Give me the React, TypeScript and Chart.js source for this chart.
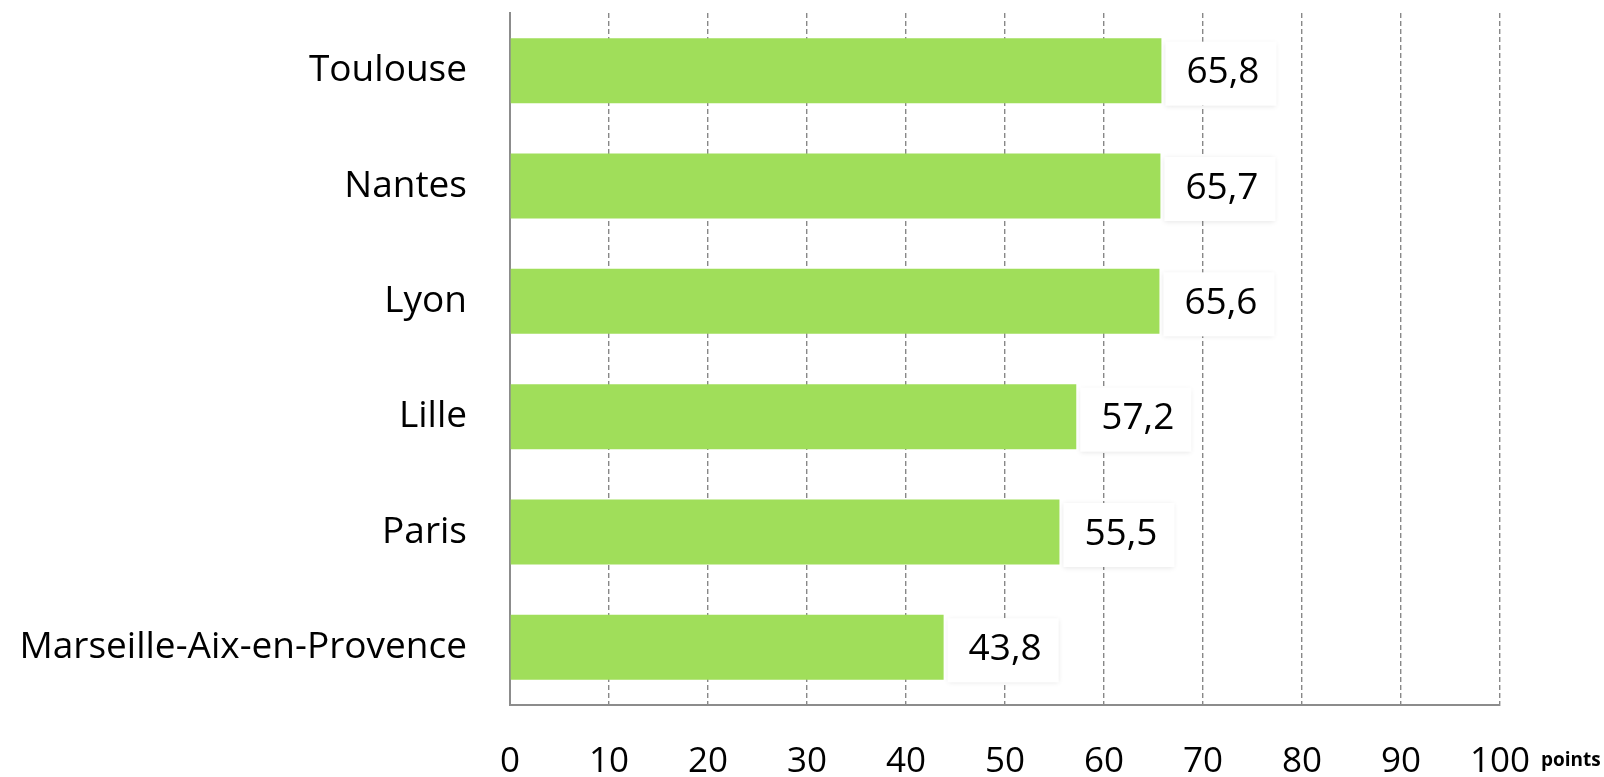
import React, { useEffect, useRef } from "react";
import { Chart, registerables } from "chart.js";

Chart.register(...registerables);

const categories = ["Toulouse", "Nantes", "Lyon", "Lille", "Paris", "Marseille-Aix-en-Provence"];
const values = [65.8, 65.7, 65.6, 57.2, 55.5, 43.8];
const valueLabels = ["65,8", "65,7", "65,6", "57,2", "55,5", "43,8"];
const unitLabel = "points";
const xMin = 0;
const xMax = 100;
const xStep = 10;

const FONT = "'Open Sans', 'Noto Sans', sans-serif";

const valueLabelPlugin = {
  id: "valueLabels",
  afterDatasetsDraw(chart: any) {
    const ctx = chart.ctx;
    const meta = chart.getDatasetMeta(0);
    ctx.save();
    ctx.font = `37px ${FONT}`;
    meta.data.forEach((bar: any, i: number) => {
      const text = valueLabels[i];
      const w = ctx.measureText(text).width;
      const x0 = bar.x + 4;
      const boxW = w + 38;
      const boxH = 64;
      const y0 = bar.y - boxH / 2 + 3;
      ctx.save();
      ctx.shadowColor = "rgba(0,0,0,0.10)";
      ctx.shadowBlur = 5;
      ctx.shadowOffsetY = 1;
      ctx.fillStyle = "#ffffff";
      ctx.fillRect(x0, y0, boxW, boxH);
      ctx.restore();
      ctx.fillStyle = "#000000";
      ctx.textAlign = "left";
      ctx.textBaseline = "middle";
      ctx.fillText(text, bar.x + 25, bar.y + 2);
    });
    ctx.restore();
  },
};

const unitPlugin = {
  id: "unitLabel",
  afterDraw(chart: any) {
    const ctx = chart.ctx;
    const xs = chart.scales.x;
    ctx.save();
    ctx.font = `bold 19px ${FONT}`;
    ctx.fillStyle = "#000000";
    ctx.textAlign = "left";
    ctx.textBaseline = "alphabetic";
    ctx.fillText(unitLabel, xs.getPixelForValue(xMax) + 41, 766);
    ctx.restore();
  },
};

export default function App() {
  const ref = useRef<HTMLCanvasElement | null>(null);

  useEffect(() => {
    if (!ref.current) return;
    const chart = new Chart(ref.current, {
      type: "bar",
      data: {
        labels: categories,
        datasets: [
          {
            data: values,
            backgroundColor: "#A0DE5A",
            borderWidth: 0,
            barPercentage: 0.564,
            categoryPercentage: 1,
          },
        ],
      },
      options: {
        indexAxis: "y",
        animation: false,
        responsive: true,
        maintainAspectRatio: false,
        layout: { padding: { top: 13, right: 104, left: 0, bottom: 0 } },
        plugins: {
          legend: { display: false },
          tooltip: { enabled: false },
          title: { display: false },
        },
        scales: {
          x: {
            type: "linear",
            min: xMin,
            max: xMax,
            ticks: {
              stepSize: xStep,
              color: "#000000",
              font: { family: FONT, size: 35 },
              padding: 36,
            },
            grid: {
              color: "#888888",
              lineWidth: 1.4,
              drawTicks: false,
            },
            border: {
              display: true,
              color: "#8c8c8c",
              width: 2,
              dash: [5, 3],
            },
            afterFit(scale: any) {
              scale.height = 72;
              scale.paddingLeft = 0;
              scale.paddingRight = 0;
            },
          },
          y: {
            type: "category",
            ticks: {
              color: "#000000",
              font: { family: FONT, size: 37 },
              padding: 43,
            },
            grid: { display: false, drawTicks: false },
            border: { display: true, color: "#8c8c8c", width: 2 },
            afterFit(scale: any) {
              scale.width = 510;
              scale.paddingTop = 0;
              scale.paddingBottom = 0;
            },
          },
        },
      },
      plugins: [valueLabelPlugin, unitPlugin],
    } as any);
    return () => chart.destroy();
  }, []);

  return (
    <div style={{ position: "fixed", left: 0, top: 0, width: 1604, height: 777, background: "#fff" }}>
      <canvas ref={ref} />
    </div>
  );
}
